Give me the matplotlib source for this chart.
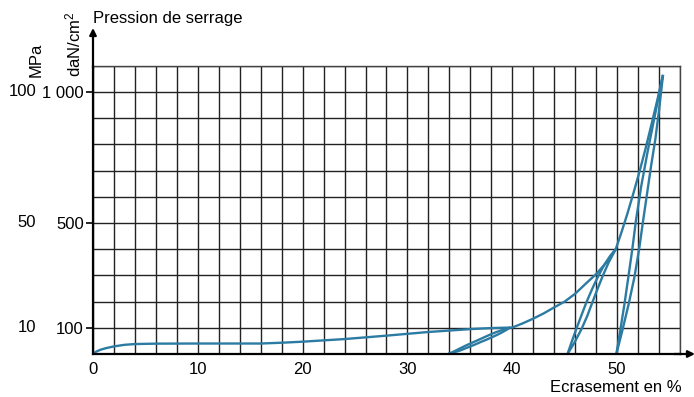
import numpy as np
import matplotlib
matplotlib.use("Agg")
import matplotlib.pyplot as plt
import matplotlib.transforms as mtransforms

plt.rcParams['font.family'] = ['Liberation Sans', 'DejaVu Sans']
plt.rcParams['mathtext.fontset'] = 'custom'
plt.rcParams['mathtext.rm'] = 'Liberation Sans'
plt.rcParams['mathtext.it'] = 'Liberation Sans'

# ---- data (x: Ecrasement %, y: daN/cm2) ----
load_x = [0, 0.3, 0.7, 1.2, 2, 3, 4, 6, 10, 14, 16, 18, 20, 24, 28, 32, 36, 38, 40,
          41, 42, 43, 44, 45, 46, 47, 48, 49, 49.87,
          50.43, 51.0, 51.56, 52.13, 52.69, 53.25, 53.82, 54.38]
load_y = [0, 9, 16, 22, 29, 35, 38, 39.5, 40, 40, 40, 43, 47, 57, 70, 84, 95, 99, 101,
          117, 135, 155, 178, 200, 230, 268, 305, 350, 400,
          466, 538, 614, 695, 780, 871, 966, 1065]

loop1_upper_x = [33.9, 34.5, 35, 35.5, 36, 36.5, 37, 37.5, 38, 38.5, 39, 39.4, 39.8]
loop1_upper_y = [0, 11, 21, 31, 40, 49, 58, 67, 76, 84, 91, 96, 101]
loop1_lower_x = [33.9, 34.5, 35, 35.5, 36, 36.5, 37, 37.5, 38, 38.5, 39, 39.4, 39.8]
loop1_lower_y = [0, 7, 13, 21, 29, 37, 46, 54, 63, 72, 82, 91, 101]

loop2_upper_x = [45.27, 45.7, 46.12, 46.6, 47.08, 47.63, 48.22, 48.8, 49.35, 49.87]
loop2_upper_y = [0, 50, 97, 148, 198, 249, 299, 342, 375, 400]
loop2_lower_x = [45.27, 45.95, 46.6, 47.15, 47.65, 48.15, 48.65, 49.2, 49.87]
loop2_lower_y = [0, 45, 95, 145, 198, 250, 300, 350, 400]

loop3_left_x = [49.93, 50.3, 50.7, 51.07, 51.45, 51.8, 52.3, 52.9, 53.6, 54.38]
loop3_left_y = [0, 90, 190, 293, 400, 510, 640, 770, 910, 1065]
loop3_right_x = [49.93, 50.5, 51.1, 51.65, 52.1, 52.45, 52.85, 53.25, 53.65, 54.0, 54.38]
loop3_right_y = [0, 90, 190, 293, 400, 500, 610, 720, 820, 930, 1065]

x_ticks = [0, 10, 20, 30, 40, 50]
y_ticks = [100, 500, 1000]
y_tick_labels = ["100", "500", "1 000"]
mpa_labels = ["10", "50", "100"]

line_color = '#2b7ba3'
FS = 12

W, H = 694, 397
fig = plt.figure(figsize=(W / 100, H / 100), dpi=100)
ax = fig.add_axes([93 / W, (H - 354) / H, (680 - 93) / W, (354 - 65.7) / H])
ax.set_xlim(0, 56)
ax.set_ylim(0, 1100)

# grid
ax.set_xticks(np.arange(0, 57, 2), minor=True)
ax.set_yticks(np.arange(0, 1101, 100), minor=True)
ax.set_xticks(x_ticks)
ax.set_yticks(y_ticks)
ax.set_yticklabels(y_tick_labels)
ax.grid(which='both', color='#222222', linewidth=1.0)
ax.set_axisbelow(True)
ax.tick_params(which='minor', length=0)
ax.tick_params(axis='x', which='major', length=0, pad=5.5, labelsize=FS)
ax.tick_params(axis='y', which='major', length=5, width=1.2, pad=1.5, labelsize=FS)

for s in ['top', 'right']:
    ax.spines[s].set_color('#444444')
    ax.spines[s].set_linewidth(1.0)
for s in ['left', 'bottom']:
    ax.spines[s].set_linewidth(1.6)
    ax.spines[s].set_color('black')

# curves
kw = dict(color=line_color, lw=1.7, solid_capstyle='butt', solid_joinstyle='round', clip_on=False)
ax.plot(load_x, load_y, **kw)
ax.plot(loop1_upper_x, loop1_upper_y, **kw)
ax.plot(loop1_lower_x, loop1_lower_y, **kw)
ax.plot(loop2_upper_x, loop2_upper_y, **kw)
ax.plot(loop2_lower_x, loop2_lower_y, **kw)
ax.plot(loop3_left_x, loop3_left_y, **kw)
ax.plot(loop3_right_x, loop3_right_y, **kw)

# axis arrows
ax.annotate('', xy=(0, 1 + (65.7 - 28) / 288.3), xytext=(0, 0.99), xycoords='axes fraction',
            arrowprops=dict(arrowstyle='-|>', lw=1.6, color='black', mutation_scale=10,
                            shrinkA=0, shrinkB=0), annotation_clip=False)
ax.annotate('', xy=(1 + (695 - 680) / 587, 0), xytext=(0.99, 0), xycoords='axes fraction',
            arrowprops=dict(arrowstyle='-|>', lw=1.6, color='black', mutation_scale=10,
                            shrinkA=0, shrinkB=0), annotation_clip=False)

# MPa labels
trans = mtransforms.blended_transform_factory(fig.transFigure, ax.transData)
for v, lab in zip(y_ticks, mpa_labels):
    ax.text(36 / W, v, lab, transform=trans, ha='right', va='center', fontsize=FS)

fig.text(36 / W, 1 - 77 / H, 'MPa', rotation=90, ha='center', va='bottom', fontsize=FS)
fig.text(73 / W, 1 - 77 / H, 'daN/cm$^2$', rotation=90, ha='center', va='bottom', fontsize=FS)
fig.text(93 / W, 1 - 19 / H, 'Pression de serrage', ha='left', va='center', fontsize=FS)
fig.text(682 / W, 1.5 / H, 'Ecrasement en %', ha='right', va='bottom', fontsize=FS)

fig.savefig('out.png', dpi=100)
